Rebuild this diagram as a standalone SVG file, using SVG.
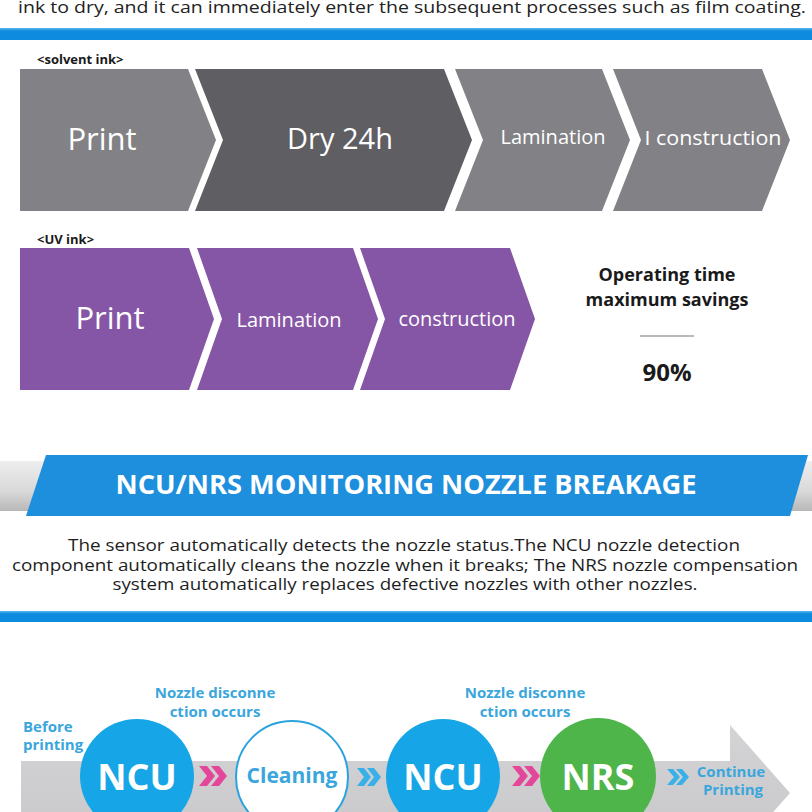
<svg xmlns="http://www.w3.org/2000/svg" width="812" height="812" viewBox="0 0 812 812">
<defs>
<style>
text{font-family:"Open Sans","Noto Sans","DejaVu Sans",sans-serif}
.w{fill:#fff}
.b{font-weight:bold}
.blu{fill:#3AA6DC;font-weight:bold}
.dk{fill:#1a1a1a}
.sg{fill:#828286}
.sd{fill:#5F5E63}
.uv{fill:#8656A6}
</style>
<linearGradient id="gbar" x1="0" y1="0" x2="0" y2="1">
<stop offset="0" stop-color="#EEEEEE"/><stop offset="0.6" stop-color="#D9D9D9"/><stop offset="1" stop-color="#B8B8B8"/>
</linearGradient>
<linearGradient id="garrow" x1="0" y1="0" x2="0" y2="1">
<stop offset="0" stop-color="#D4D4D6"/><stop offset="1" stop-color="#C6C6C8"/>
</linearGradient>
<linearGradient id="gblue" x1="0" y1="0" x2="0" y2="1">
<stop offset="0" stop-color="#5FB6EC"/><stop offset="0.25" stop-color="#0E8BDF"/><stop offset="1" stop-color="#0E8BDF"/>
</linearGradient>
</defs>
<rect width="812" height="812" fill="#fff"/>

<g id="intro">
<text x="412" y="13" text-anchor="middle" font-size="17" fill="#222" textLength="788" lengthAdjust="spacingAndGlyphs">ink to dry, and it can immediately enter the subsequent processes such as film coating.</text>
<rect x="0" y="28" width="812" height="12" fill="url(#gblue)"/>
</g>

<g id="solvent">
<text x="37" y="64" font-size="13" class="b dk">&lt;solvent ink&gt;</text>
<g id="s-print"><polygon class="sg" points="20,69 188,69 216,140 188,211 20,211"/><text x="102" y="150" font-size="31" class="w" text-anchor="middle">Print</text></g>
<g id="s-dry"><polygon class="sd" points="195,69 444,69 472,140 444,211 195,211 223,140"/><text x="340" y="149" font-size="29" class="w" text-anchor="middle">Dry 24h</text></g>
<g id="s-lam"><polygon class="sg" points="455,69 602,69 630,140 602,211 455,211 483,140"/><text x="553" y="144" font-size="20" class="w" text-anchor="middle">Lamination</text></g>
<g id="s-con"><polygon class="sg" points="613,69 762,69 790,140 762,211 613,211 641,140"/><text x="713" y="145" font-size="20.5" class="w" text-anchor="middle" textLength="137" lengthAdjust="spacingAndGlyphs">I construction</text></g>
</g>

<g id="uv">
<text x="37" y="244" font-size="13" class="b dk">&lt;UV ink&gt;</text>
<g id="u-print"><polygon class="uv" points="20,248 189,248 214,319 189,390 20,390"/><text x="110" y="329" font-size="31" class="w" text-anchor="middle">Print</text></g>
<g id="u-lam"><polygon class="uv" points="197,248 353,248 378,319 353,390 197,390 222,319"/><text x="289" y="327" font-size="20" class="w" text-anchor="middle">Lamination</text></g>
<g id="u-con"><polygon class="uv" points="360,248 510,248 535,319 510,390 360,390 385,319"/><text x="457" y="326" font-size="20" class="w" text-anchor="middle">construction</text></g>
</g>

<g id="savings">
<text x="667" y="281" font-size="18" class="b dk" text-anchor="middle">Operating time</text>
<text x="667" y="306" font-size="18" class="b dk" text-anchor="middle">maximum savings</text>
<line x1="640" y1="336" x2="694" y2="336" stroke="#777" stroke-width="1.2"/>
<text x="667" y="381" font-size="24" class="b dk" text-anchor="middle">90%</text>
</g>

<g id="banner">
<rect x="0" y="461" width="812" height="50" fill="url(#gbar)"/>
<polygon points="46,455 808,455 790,516 26,516" fill="#1E8FDD"/>
<text x="406" y="494" font-size="26" class="w b" text-anchor="middle" textLength="581" lengthAdjust="spacingAndGlyphs">NCU/NRS MONITORING NOZZLE BREAKAGE</text>
</g>

<g id="desc" font-size="16" fill="#1e1e1e">
<text x="404" y="551" text-anchor="middle" textLength="672" lengthAdjust="spacingAndGlyphs">The sensor automatically detects the nozzle status.The NCU nozzle detection</text>
<text x="405" y="571" text-anchor="middle" textLength="786" lengthAdjust="spacingAndGlyphs">component automatically cleans the nozzle when it breaks; The NRS nozzle compensation</text>
<text x="405" y="590" text-anchor="middle" textLength="585" lengthAdjust="spacingAndGlyphs">system automatically replaces defective nozzles with other nozzles.</text>
<rect x="0" y="611" width="812" height="11" fill="url(#gblue)"/>
</g>

<g id="flow-arrow">
<polygon points="21,761 730,761 730,725 790,793 730,861 730,825 21,825" fill="url(#garrow)"/>
</g>

<g id="connectors">
<g id="c1" fill="#E4479A"><polygon points="199,766 207,766 215,776 207,786 199,786 207,776"/><polygon points="211,766 219,766 227,776 219,786 211,786 219,776"/></g>
<g id="c2" fill="#3AB0E8"><polygon points="357,768 364,768 371,777 364,786 357,786 364,777"/><polygon points="367,768 374,768 381,777 374,786 367,786 374,777"/></g>
<g id="c3" fill="#E4479A"><polygon points="512,766 520,766 528,776 520,786 512,786 520,776"/><polygon points="524,766 532,766 540,776 532,786 524,786 532,776"/></g>
<g id="c4" fill="#3AB0E8"><polygon points="667,769 673,769 680,777 673,785 667,785 674,777"/><polygon points="676,769 682,769 689,777 682,785 676,785 683,777"/></g>
</g>

<g id="label-before"><text x="23" y="732" font-size="15" class="blu">Before</text><text x="23" y="750" font-size="15" class="blu">printing</text></g>
<g id="label-disc1"><text x="215" y="698" font-size="15" class="blu" text-anchor="middle">Nozzle disconne</text><text x="215" y="717" font-size="15" class="blu" text-anchor="middle">ction occurs</text></g>
<g id="label-disc2"><text x="525" y="698" font-size="15" class="blu" text-anchor="middle">Nozzle disconne</text><text x="525" y="717" font-size="15" class="blu" text-anchor="middle">ction occurs</text></g>

<g id="ncu1"><circle cx="137" cy="776" r="57" fill="#16A5E6"/><text x="137" y="790" font-size="36" class="w b" text-anchor="middle">NCU</text></g>
<g id="cleaning"><circle cx="292" cy="777" r="56" fill="#fff" stroke="#2BA3DD" stroke-width="2"/><text x="292" y="783" font-size="21" class="blu" fill="#2BA3DD" text-anchor="middle">Cleaning</text></g>
<g id="ncu2"><circle cx="443" cy="776" r="57" fill="#16A5E6"/><text x="443" y="790" font-size="36" class="w b" text-anchor="middle">NCU</text></g>
<g id="nrs"><circle cx="598" cy="776" r="58" fill="#4DB54A"/><text x="598" y="790" font-size="36" class="w b" text-anchor="middle">NRS</text></g>
<g id="continue"><text x="731" y="777" font-size="15" class="blu" text-anchor="middle">Continue</text><text x="733" y="795" font-size="15" class="blu" text-anchor="middle">Printing</text></g>
</svg>
